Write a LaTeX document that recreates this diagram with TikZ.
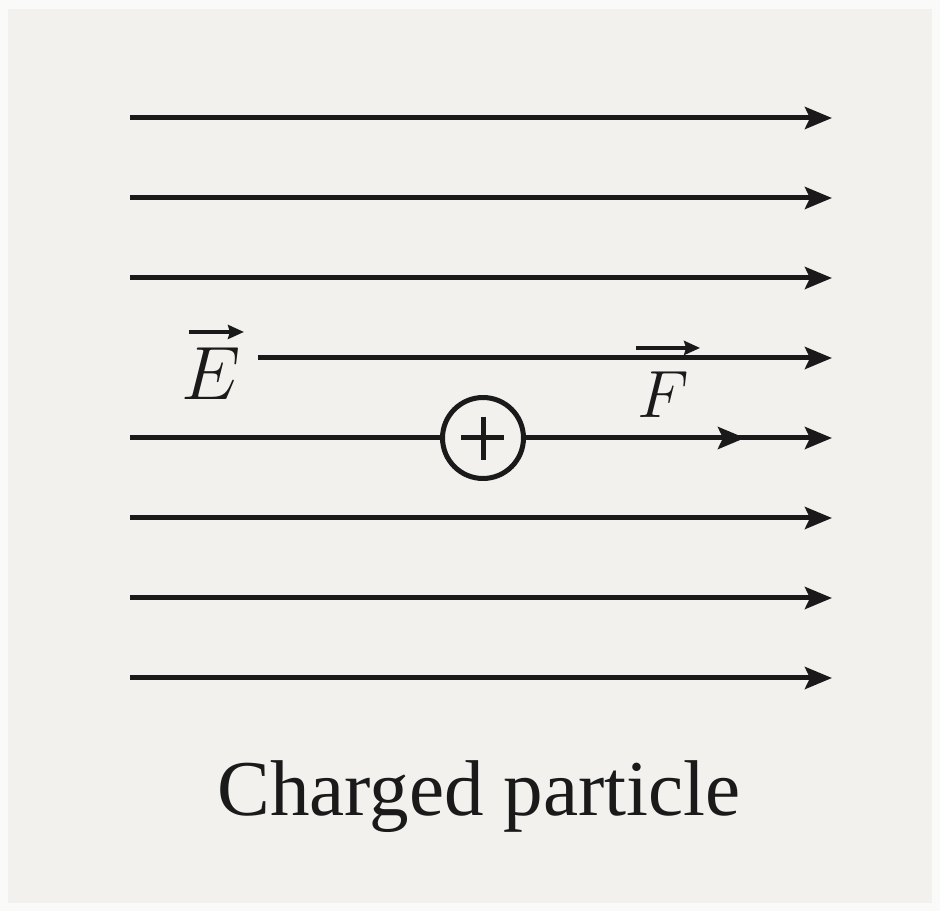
\documentclass[tikz,border=0pt]{standalone}
\usepackage{graphicx}
\usepackage{fontspec}
\setmainfont{Liberation Serif}
\usetikzlibrary{arrows.meta}
\definecolor{paper}{HTML}{F2F1EE}
\definecolor{rim}{HTML}{FAFAF8}
\definecolor{ink}{HTML}{1A1A1A}

\begin{document}
\begin{tikzpicture}[x=0.02cm, y=-0.02cm,
    field/.style={line width=0.1cm, draw=ink, -{Stealth[length=0.54cm, width=0.44cm, inset=0.1cm]}},
    vecbar/.style={line width=0.09cm, draw=ink, -{Stealth[length=0.32cm, width=0.28cm, inset=0.04cm]}},
    charge/.style={circle, draw=ink, fill=paper, line width=0.1cm, minimum size=1.62cm, inner sep=0pt},
    label/.style={text=ink, inner sep=0pt}]
  % Paper
  \fill[rim] (0, 0) rectangle (940, 911);
  \fill[paper] (8, 9) rectangle (932, 903);
  \useasboundingbox (0, 0) rectangle (940, 911);

  % Field lines, evenly spaced
  \foreach \i/\y/\x in {1/118/130, 2/198/130, 3/278/130, 4/358/258,
                        5/438/130, 6/518/130, 7/598/130, 8/678/130} {
    \coordinate (l\i) at (\x, \y);
    \coordinate (r\i) at (832, \y);
    \draw[field] (l\i) -- (r\i);
  }

  % Field label
  \node[label, anchor=base, font=\Huge] (elabel) at (211, 400) {\scalebox{1.73}{$E$}};
  \draw[vecbar] ([xshift=0.16cm, yshift=0.32cm]elabel.north west) -- ([xshift=0.06cm, yshift=0.32cm]elabel.north east);

  % Positive particle on the middle line
  \node[charge] (particle) at (483, 438) {};
  \draw[line width=0.1cm, draw=ink] (461, 438) -- (504, 438);
  \draw[line width=0.1cm, draw=ink] (483, 417) -- (483, 460);

  % Force on the particle
  \coordinate (ftip) at (745, 438);
  \draw[field] (particle.east) -- (ftip);
  \node[label, anchor=base, font=\Huge] (flabel) at (663, 418) {\scalebox{1.53}{$F$}};
  \draw[vecbar] ([xshift=-0.02cm, yshift=0.48cm]flabel.north west) -- ([xshift=0.22cm, yshift=0.48cm]flabel.north east);

  % Caption
  \node[label, font=\fontsize{45}{54}\selectfont, anchor=base] (caption) at (479, 815) {Charged particle};
\end{tikzpicture}
\end{document}
